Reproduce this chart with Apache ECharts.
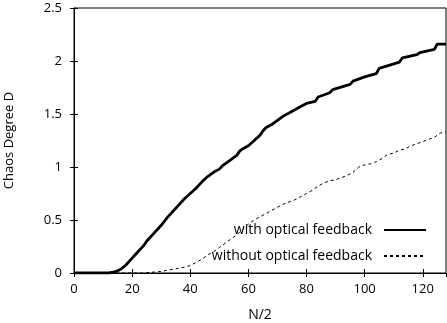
<!DOCTYPE html>
<html><head><meta charset="utf-8">
<script src="https://cdn.jsdelivr.net/npm/echarts@6/dist/echarts.min.js"></script>
<style>html,body{margin:0;padding:0;background:#fff}#c{width:447px;height:323px}</style>
</head><body><div id="c"></div>
<script>
const nValues = [0,2,4,6,8,10,12,13,14,15,16,17,18,19,20,21,22,23,24,25,26,27,28,29,30,32,34,36,38,40,42,44,46,48,50,51,52,54,56,57,58,60,62,64,65,66,68,70,72,74,76,78,80,83,84,88,89,95,96,100,104,105,112,113,118,119,124,125,128];
const withFeedback = [0,0,0,0,0,0,0,0.005,0.01,0.02,0.035,0.055,0.08,0.11,0.14,0.17,0.2,0.23,0.26,0.3,0.33,0.36,0.39,0.42,0.45,0.52,0.58,0.64,0.7,0.75,0.8,0.86,0.91,0.95,0.98,1.01,1.03,1.07,1.11,1.15,1.17,1.2,1.25,1.3,1.34,1.37,1.4,1.44,1.48,1.51,1.54,1.57,1.6,1.62,1.66,1.7,1.73,1.78,1.81,1.85,1.88,1.93,1.99,2.03,2.06,2.08,2.11,2.16,2.16];
const mValues = [0,5,10,15,20,24,25,28,30,32,34,36,38,40,42,44,46,48,50,52,54,56,58,60,62,64,66,68,70,72,74,76,78,80,82,84,86,88,90,92,94,96,98,100,102,104,106,108,110,112,114,116,118,120,122,124,126,128];
const withoutFeedback = [0,0,0,0,0,0,0.002,0.01,0.015,0.025,0.035,0.045,0.055,0.07,0.1,0.13,0.17,0.2,0.24,0.28,0.32,0.36,0.41,0.46,0.5,0.53,0.56,0.59,0.62,0.65,0.67,0.69,0.72,0.75,0.78,0.82,0.85,0.87,0.88,0.9,0.92,0.95,1.0,1.02,1.03,1.05,1.08,1.12,1.13,1.16,1.17,1.2,1.22,1.24,1.26,1.28,1.32,1.33];
const xTicks = [0,20,40,60,80,100,120];
const yTicks = [0,0.5,1,1.5,2,2.5];

const font = '"Open Sans", "Noto Sans", sans-serif';
const chart = echarts.init(document.getElementById('c'), null, {renderer:'canvas'});
const tickFmt = v => (xTicks.indexOf(v) >= 0 ? String(v) : '');
chart.setOption({
  animation:false,
  grid:{left:74,right:1,top:8,bottom:50,containLabel:false,outerBoundsMode:'none',show:true,borderColor:'#000',borderWidth:1,backgroundColor:'transparent'},
  xAxis:[{type:'value',min:0,max:128,interval:20,
    name:'N/2',nameLocation:'middle',nameGap:35,nameMoveOverlap:false,nameTextStyle:{fontFamily:font,fontSize:14,color:'#000'},
    axisLine:{show:true,lineStyle:{color:'#000',width:1}},
    axisTick:{show:true,inside:true,length:4,lineStyle:{color:'#000'}},
    axisLabel:{fontFamily:font,fontSize:13,color:'#000',margin:10,showMaxLabel:false,formatter:tickFmt},
    splitLine:{show:false}},
    {type:'value',position:'top',min:0,max:128,interval:20,
    axisLine:{show:true,lineStyle:{color:'#000'}},
    axisTick:{show:true,inside:true,length:4,lineStyle:{color:'#000'}},
    axisLabel:{show:false},splitLine:{show:false}}],
  yAxis:[{type:'value',min:0,max:2.5,interval:0.5,
    name:'Chaos Degree D',nameLocation:'middle',nameGap:58,nameMoveOverlap:false,nameTextStyle:{fontFamily:font,fontSize:13,color:'#000'},
    axisLine:{show:true,lineStyle:{color:'#000'}},
    axisTick:{show:true,inside:true,length:4,lineStyle:{color:'#000'}},
    axisLabel:{fontFamily:font,fontSize:13,color:'#000',margin:12,formatter:v=>String(v)},
    splitLine:{show:false}},
    {type:'value',position:'right',min:0,max:2.5,interval:0.5,
    axisLine:{show:true,lineStyle:{color:'#000'}},
    axisTick:{show:true,inside:true,length:4,lineStyle:{color:'#000'}},
    axisLabel:{show:false},splitLine:{show:false}}],
  legend:{orient:'vertical',right:20,bottom:60,padding:0,align:'right',itemGap:12,itemWidth:42,itemHeight:14,
    itemStyle:{opacity:0},
    textStyle:{fontFamily:font,fontSize:14,color:'#000',padding:[0,7,0,0]},
    data:['with optical feedback','without optical feedback']},
  series:[
    {name:'with optical feedback',type:'line',symbol:'none',data:nValues.map((n,i)=>[n,withFeedback[i]]),
     lineStyle:{color:'#000',width:2.8},itemStyle:{color:'#000'},z:3},
    {name:'without optical feedback',type:'line',symbol:'none',data:mValues.map((n,i)=>[n,withoutFeedback[i]]),
     lineStyle:{color:'#000',width:1,type:[3,3]},itemStyle:{color:'#000'},z:2}
  ]
});
</script></body></html>
